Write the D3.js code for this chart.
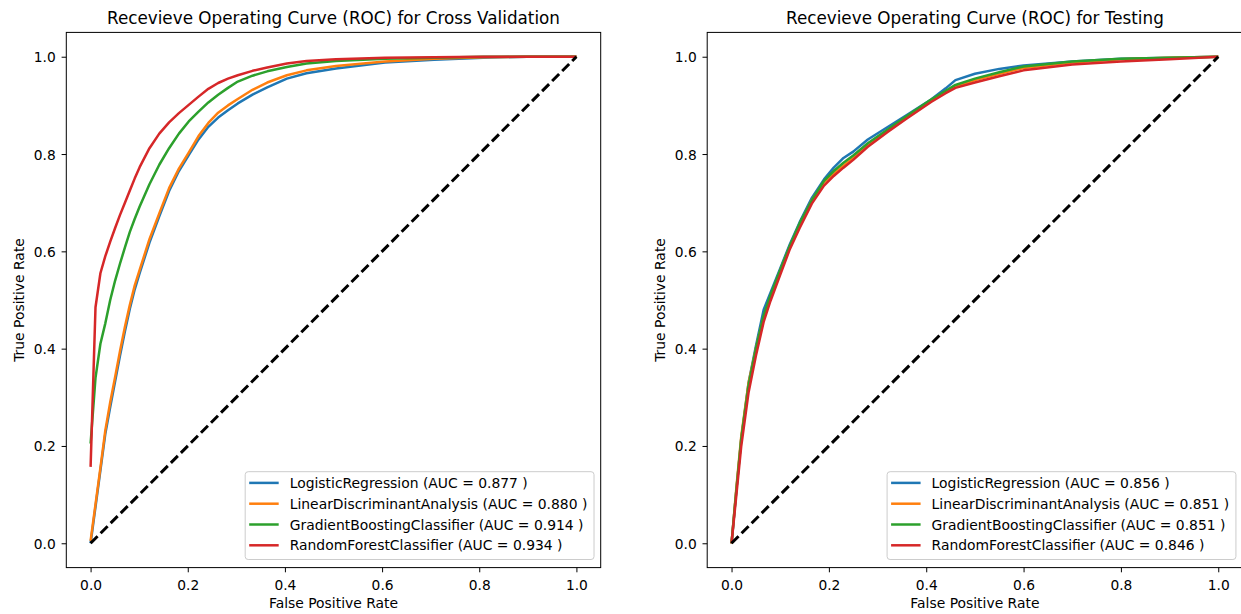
<!DOCTYPE html>
<html>
<head>
<meta charset="utf-8">
<script src="https://cdn.jsdelivr.net/npm/d3@7"></script>
<style>
  body { margin: 0; background: #fff; }
  svg { display: block; font-family: "DejaVu Sans", sans-serif; }
  .tick text { font-size: 13.8px; fill: #000; }
</style>
</head>
<body>
<div id="chart"></div>
<script>
// model names + colours (matplotlib tab10)
const models = ["LogisticRegression", "LinearDiscriminantAnalysis", "GradientBoostingClassifier", "RandomForestClassifier"]
const colors = ["#1f77b4", "#ff7f0e", "#2ca02c", "#d62728"]
const tickValues = [0.0, 0.2, 0.4, 0.6, 0.8, 1.0]

// cross validation panel (mean curves)
const cvAuc = ["0.877", "0.880", "0.914", "0.934"]
const cvFpr = [0, 0.0101, 0.0202, 0.0303, 0.0404, 0.0505, 0.0606, 0.0707, 0.0808, 0.0909, 0.101, 0.1212, 0.1414, 0.1616, 0.1818, 0.202, 0.2222, 0.2424, 0.2626, 0.2828, 0.303, 0.3333, 0.3636, 0.404, 0.4444, 0.5051, 0.6061, 0.7071, 0.8081, 0.899, 1.0]
const cvLogistic = [0, 0.075, 0.15, 0.225, 0.28, 0.333, 0.386, 0.436, 0.482, 0.522, 0.555, 0.618, 0.672, 0.724, 0.765, 0.798, 0.83, 0.856, 0.875, 0.89, 0.904, 0.922, 0.937, 0.955, 0.966, 0.976, 0.988, 0.994, 0.998, 1.0, 1.0]
const cvLda = [0.005, 0.08, 0.155, 0.232, 0.29, 0.342, 0.395, 0.445, 0.49, 0.53, 0.562, 0.625, 0.678, 0.73, 0.77, 0.803, 0.837, 0.864, 0.885, 0.9, 0.913, 0.932, 0.947, 0.962, 0.972, 0.981, 0.99, 0.996, 0.999, 1.0, 1.0]
const cvGb = [0.205, 0.34, 0.41, 0.452, 0.5, 0.54, 0.575, 0.608, 0.64, 0.667, 0.692, 0.738, 0.778, 0.812, 0.842, 0.867, 0.887, 0.906, 0.922, 0.936, 0.949, 0.961, 0.97, 0.979, 0.986, 0.991, 0.996, 0.998, 1.0, 1.0, 1.0]
const cvRf = [0.157, 0.485, 0.555, 0.59, 0.62, 0.648, 0.675, 0.7, 0.725, 0.75, 0.773, 0.812, 0.842, 0.865, 0.884, 0.901, 0.918, 0.934, 0.946, 0.955, 0.962, 0.971, 0.978, 0.986, 0.991, 0.995, 0.998, 0.999, 1.0, 1.0, 1.0]

// testing panel
const testAuc = ["0.856", "0.851", "0.851", "0.846"]
const testFpr = [0, 0.01, 0.02, 0.035, 0.05, 0.066, 0.08, 0.1, 0.12, 0.14, 0.165, 0.19, 0.21, 0.23, 0.25, 0.28, 0.32, 0.36, 0.41, 0.44, 0.46, 0.5, 0.55, 0.6, 0.7, 0.8, 0.9, 1.0]
const testLogistic = [0, 0.11, 0.215, 0.33, 0.405, 0.48, 0.515, 0.565, 0.615, 0.66, 0.71, 0.748, 0.772, 0.792, 0.805, 0.83, 0.855, 0.88, 0.912, 0.935, 0.952, 0.965, 0.975, 0.982, 0.99, 0.996, 0.998, 1.0]
const testLda = [0, 0.115, 0.22, 0.33, 0.4, 0.465, 0.505, 0.56, 0.61, 0.655, 0.705, 0.742, 0.76, 0.776, 0.792, 0.818, 0.848, 0.876, 0.91, 0.928, 0.938, 0.952, 0.965, 0.977, 0.988, 0.995, 0.998, 1.0]
const testGb = [0, 0.11, 0.215, 0.325, 0.4, 0.468, 0.51, 0.562, 0.612, 0.658, 0.705, 0.745, 0.765, 0.782, 0.797, 0.822, 0.85, 0.878, 0.912, 0.93, 0.942, 0.955, 0.968, 0.98, 0.99, 0.996, 0.998, 1.0]
const testRf = [0, 0.1, 0.2, 0.31, 0.385, 0.455, 0.498, 0.552, 0.605, 0.648, 0.698, 0.735, 0.755, 0.772, 0.788, 0.815, 0.845, 0.873, 0.907, 0.925, 0.936, 0.947, 0.96, 0.972, 0.984, 0.99, 0.995, 1.0]

const width = 1241, height = 614
const svg = d3.select("#chart").append("svg").attr("width", width).attr("height", height)
svg.append("rect").attr("width", width).attr("height", height).attr("fill", "#fff")

const plotTop = 32.4, plotBottom = 567.6
const smallFont = "13.9px"

function drawPanel(left, right, title, fpr, tprs, aucs) {
  const x = d3.scaleLinear().domain([-0.05, 1.05]).range([left, right])
  const y = d3.scaleLinear().domain([-0.05, 1.05]).range([plotBottom, plotTop])
  const g = svg.append("g")

  // axes
  const xAxis = g.append("g").attr("transform", "translate(0," + plotBottom + ")")
    .call(d3.axisBottom(x).tickValues(tickValues).tickFormat(d3.format(".1f")).tickSize(4.7).tickSizeOuter(0))
  xAxis.select(".domain").remove()
  xAxis.selectAll(".tick line").attr("stroke", "#000")
  xAxis.selectAll(".tick text").attr("y", 22.4).attr("dy", 0).attr("font-family", "DejaVu Sans")

  const yAxis = g.append("g").attr("transform", "translate(" + left + ",0)")
    .call(d3.axisLeft(y).tickValues(tickValues).tickFormat(d3.format(".1f")).tickSize(4.7).tickSizeOuter(0))
  yAxis.select(".domain").remove()
  yAxis.selectAll(".tick line").attr("stroke", "#000")
  yAxis.selectAll(".tick text").attr("x", -10.5).attr("dy", "0.36em").attr("font-family", "DejaVu Sans")

  // curves
  const line = d3.line().x(d => x(d[0])).y(d => y(d[1]))
  tprs.forEach((tpr, i) => {
    g.append("path").datum(fpr.map((f, j) => [f, tpr[j]]))
      .attr("d", line).attr("fill", "none")
      .attr("stroke", colors[i]).attr("stroke-width", 2.5)
      .attr("stroke-linejoin", "round").attr("stroke-linecap", "butt")
  })

  // chance diagonal
  g.append("path").datum([[0, 0], [1, 1]])
    .attr("d", line).attr("fill", "none")
    .attr("stroke", "#000").attr("stroke-width", 3)
    .attr("stroke-dasharray", "9.9,4.3")

  // frame
  g.append("rect").attr("x", left).attr("y", plotTop)
    .attr("width", right - left).attr("height", plotBottom - plotTop)
    .attr("fill", "none").attr("stroke", "#000").attr("stroke-width", 1)

  // title and labels
  g.append("text").attr("x", (left + right) / 2).attr("y", 24.4)
    .attr("text-anchor", "middle").attr("font-size", "16.8px").attr("fill", "#000")
    .text(title)
  g.append("text").attr("x", (left + right) / 2).attr("y", 608.3)
    .attr("text-anchor", "middle").attr("font-size", smallFont).attr("fill", "#000")
    .text("False Positive Rate")
  g.append("text").attr("transform", "translate(" + (left - 42) + "," + ((plotTop + plotBottom) / 2) + ") rotate(-90)")
    .attr("text-anchor", "middle").attr("font-size", smallFont).attr("fill", "#000")
    .text("True Positive Rate")

  // legend, lower right
  const boxRight = right - 6.67
  const leg = g.append("g")
  const labels = models.map((m, i) => m + " (AUC = " + aucs[i] + " )")
  const texts = leg.selectAll("text").data(labels).enter().append("text")
    .attr("font-size", smallFont).attr("fill", "#000")
    .text(d => d)
  let maxW = 0
  texts.each(function () { maxW = Math.max(maxW, this.getComputedTextLength()) })
  const boxW = 44.5 + maxW + 6.7
  const boxLeft = boxRight - boxW
  const boxTop = 471.7, boxBottom = 559.5
  leg.insert("rect", "text").attr("x", boxLeft).attr("y", boxTop)
    .attr("width", boxW).attr("height", boxBottom - boxTop).attr("rx", 3)
    .attr("fill", "#fff").attr("fill-opacity", 0.8)
    .attr("stroke", "#cccccc").attr("stroke-width", 1)
  texts.attr("x", boxLeft + 44.5).attr("y", (d, i) => 482.9 + i * 20.8 + 5)
  leg.selectAll("line").data(labels).enter().append("line")
    .attr("x1", boxLeft + 4).attr("x2", boxLeft + 33.5)
    .attr("y1", (d, i) => 482.9 + i * 20.8).attr("y2", (d, i) => 482.9 + i * 20.8)
    .attr("stroke", (d, i) => colors[i]).attr("stroke-width", 2.5)
}

drawPanel(66.3, 600.7, "Recevieve Operating Curve (ROC) for Cross Validation",
  cvFpr, [cvLogistic, cvLda, cvGb, cvRf], cvAuc)
drawPanel(707.2, 1242.6, "Recevieve Operating Curve (ROC) for Testing",
  testFpr, [testLogistic, testLda, testGb, testRf], testAuc)
</script>
</body>
</html>
